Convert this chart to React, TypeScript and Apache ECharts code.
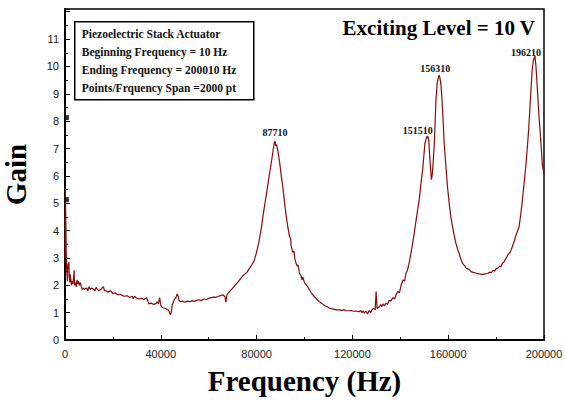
import React, { useEffect, useRef } from "react";
import * as echarts from "echarts";

// Frequency (Hz) / Gain samples
const freq: number[] = [
  10, 150, 300, 450, 600, 800, 1000, 1200, 1400, 1600, 1800, 2000, 2200, 2400, 2700, 3000, 3300, 3600, 3800, 4000,
  4300, 4700, 5000, 5300, 5600, 6000, 6400, 6800, 7200, 7600, 8000, 9000, 9500, 10000, 10500, 11000, 12000, 12500,
  13000, 14000, 15000, 16000, 16500, 17000, 18000, 19000, 20000, 21000, 22000, 23000, 24000, 25000, 26000, 27000,
  28000, 28500, 29000, 30000, 31000, 32000, 33000, 34000, 34500, 35000, 36000, 37000, 38000, 38500, 39000, 39500,
  40000, 40500, 41000, 42000, 43000, 43500, 44000, 44400, 44800, 45300, 45800, 46300, 46800, 47200, 47600, 48200,
  49000, 50000, 51000, 52000, 53000, 54000, 55000, 56000, 57000, 58000, 59000, 60000, 61000, 62000, 63000, 64000,
  65000, 66000, 66800, 67200, 67600, 68500, 70000, 72000, 74000, 76000, 77000, 78000, 79000, 79800, 80500, 81000,
  82000, 82600, 83500, 84300, 85000, 85700, 86500, 87000, 87400, 87710, 88000, 88300, 88900, 89600, 90300, 91000,
  91700, 92400, 93000, 93700, 94200, 94400, 95100, 95600, 96000, 96500, 97000, 97300, 97900, 98500, 99000, 99300,
  100000, 101300, 102100, 103000, 104000, 105000, 106250, 107500, 108500, 109500, 110400, 111500, 112500, 113500,
  114600, 115500, 116500, 117500, 118750, 119500, 120500, 121500, 122900, 123500, 124000, 124500, 125000, 125700,
  126300, 127000, 127600, 128300, 129000, 129500, 129900, 130300, 130800, 131250, 131800, 132300, 132800, 133400,
  134000, 134600, 135400, 136000, 137000, 137600, 138200, 139000, 139600, 140500, 141200, 141800, 142400, 143000,
  143750, 144700, 145800, 146800, 147900, 148600, 149300, 150300, 150800, 151200, 151510, 151900, 152100, 152600,
  153000, 153400, 153800, 154200, 154600, 154900, 155400, 156000, 156310, 156700, 157000, 157400, 157900, 158300,
  159000, 159700, 160400, 161100, 162100, 163200, 164000, 164600, 165300, 166000, 167000, 167600, 168750, 169500,
  170500, 171500, 172900, 174300, 175500, 176500, 177200, 178000, 178700, 179400, 180000, 180800, 181500, 182000,
  182600, 183300, 184000, 184600, 185200, 185800, 186300, 186800, 187500, 188200, 189000, 189600, 190300, 191000,
  191700, 192400, 193000, 193500, 194000, 194400, 194800, 195100, 195500, 196210, 196600, 196900, 197400, 197900,
  198400, 198900, 199300, 200010,
];

const gain: number[] = [
  3.0, 5.55, 4.6, 3.6, 2.7, 2.5, 2.15, 2.8, 2.6, 2.85, 2.3, 2.1, 2.4, 2.25, 2.0, 2.15, 2.05, 2.3, 2.55, 2.0,
  2.1, 1.95, 2.2, 2.05, 2.15, 2.0, 2.1, 1.95, 1.85, 1.9, 1.85, 1.9, 1.8, 1.95, 1.85, 1.9, 1.85, 1.8,
  1.92, 1.8, 1.85, 1.95, 1.8, 1.8, 1.75, 1.8, 1.7, 1.72, 1.65, 1.68, 1.62, 1.6, 1.62, 1.55,
  1.6, 1.52, 1.6, 1.52, 1.5, 1.52, 1.48, 1.55, 1.45, 1.32, 1.35, 1.3, 1.33, 1.4, 1.32, 1.55,
  1.28, 1.2, 1.18, 1.15, 1.1, 1.05, 0.92, 1.02, 1.3, 1.4, 1.5, 1.55, 1.68, 1.62, 1.45, 1.4,
  1.42, 1.38, 1.42, 1.4, 1.43, 1.42, 1.45, 1.47, 1.44, 1.5, 1.48, 1.52, 1.55, 1.57, 1.56, 1.6,
  1.62, 1.65, 1.58, 1.38, 1.65, 1.75, 1.9, 2.1, 2.32, 2.48, 2.62, 2.75, 2.9, 3.15, 3.4, 3.6,
  4.1, 4.5, 5.0, 5.45, 5.85, 6.25, 6.7, 7.0, 7.2, 7.27, 7.1, 7.15, 6.9, 6.5, 6.0, 5.55,
  5.0, 4.5, 4.15, 3.8, 3.7, 3.45, 3.2, 3.25, 2.95, 2.8, 2.7, 2.75, 2.45, 2.35, 2.2, 2.3,
  2.1, 1.95, 1.83, 1.7, 1.6, 1.5, 1.4, 1.32, 1.25, 1.22, 1.16, 1.14, 1.12, 1.1,
  1.1, 1.08, 1.1, 1.07, 1.07, 1.08, 1.05, 1.06, 1.04, 1.08, 1.0, 1.07, 0.98, 1.06,
  0.95, 1.08, 1.0, 1.12, 1.15, 1.1, 1.77, 1.15, 1.2, 1.2, 1.3, 1.22, 1.32, 1.25,
  1.35, 1.3, 1.45, 1.42, 1.55, 1.5, 1.65, 1.78, 1.72, 2.05, 2.2, 2.15, 2.45, 2.55,
  2.85, 3.3, 3.9, 4.5, 5.13, 5.7, 6.2, 7.2, 7.35, 7.45, 7.44, 7.3, 6.96, 6.3,
  5.86, 6.1, 6.6, 7.2, 8.1, 8.8, 9.4, 9.65, 9.67, 9.5, 9.3, 8.8, 8.0, 7.2,
  6.4, 5.6, 5.0, 4.5, 4.0, 3.54, 3.3, 3.15, 2.95, 2.8, 2.7, 2.62, 2.58, 2.5,
  2.47, 2.45, 2.42, 2.4, 2.42, 2.43, 2.48, 2.46, 2.55, 2.52, 2.6, 2.63, 2.7, 2.68,
  2.8, 2.85, 2.98, 3.05, 3.15, 3.2, 3.3, 3.42, 3.6, 3.8, 4.0, 4.15, 4.6, 5.13,
  5.75, 6.35, 7.0, 7.57, 8.3, 8.9, 9.5, 9.9, 10.2, 10.38, 10.05, 9.65, 8.9, 8.18,
  7.6, 6.96, 6.4, 6.05,
];

// Annotated resonance peaks
const peakFreq: number[] = [87710, 151510, 156310, 196210];
const peakGain: number[] = [7.27, 7.44, 9.67, 10.38];

// Small black marks on the gain axis
const axisMarkFreq: number[] = [800, 800];
const axisMarkGain: number[] = [8.13, 5.13];

const infoLines: string[] = [
  "Piezoelectric Stack Actuator",
  "Beginning Frequency = 10 Hz",
  "Ending Frequency = 200010 Hz",
  "Points/Frquency Span =2000 pt",
];
const levelText = "Exciting Level = 10 V";

const xTicks = { min: 0, max: 200000, interval: 40000 };
const yTicks = { min: 0, max: 12.1, interval: 1 };

export default function App() {
  const ref = useRef<HTMLDivElement>(null);

  useEffect(() => {
    if (!ref.current) return;
    const chart = echarts.init(ref.current, undefined, { renderer: "svg" });
    const serif = "'Liberation Serif', 'Times New Roman', serif";
    const sans = "'Liberation Sans', Arial, sans-serif";
    const lineColor = "#8b0a0a";
    const peakOffsets: number[][] = [
      [0, -9],
      [-10, -6],
      [-4, -7],
      [-9, -4],
    ];

    const data = freq.map((f, i) => [f, gain[i]]);

    chart.setOption({
      animation: false,
      backgroundColor: "#fff",
      grid: {
        left: 65,
        right: 21,
        top: 9,
        bottom: 63,
        containLabel: false,
        outerBoundsMode: "none",
        show: true,
        borderColor: "#000",
        borderWidth: 1.5,
        backgroundColor: "transparent",
      },
      xAxis: {
        type: "value",
        min: xTicks.min,
        max: xTicks.max,
        interval: xTicks.interval,
        name: "Frequency (Hz)",
        nameLocation: "middle",
        nameGap: 26,
        nameTextStyle: { fontFamily: serif, fontWeight: "bold", fontSize: 29, color: "#000" },
        axisLine: { lineStyle: { color: "#000", width: 2 } },
        axisTick: { inside: true, length: 5, lineStyle: { color: "#000", width: 1 } },
        minorTick: { show: true, splitNumber: 2, length: 3, lineStyle: { color: "#000", width: 1 } },
        splitLine: { show: false },
        axisLabel: {
          fontFamily: sans,
          fontSize: 11,
          color: "#222",
          margin: 8,
          formatter: (v: number) => String(v),
        },
      },
      yAxis: {
        type: "value",
        min: yTicks.min,
        max: yTicks.max,
        interval: yTicks.interval,
        name: "Gain",
        nameLocation: "middle",
        nameGap: 35,
        nameTextStyle: { fontFamily: serif, fontWeight: "bold", fontSize: 29, color: "#000" },
        axisLine: { lineStyle: { color: "#000", width: 2 } },
        axisTick: { inside: true, length: 5, lineStyle: { color: "#000", width: 1 } },
        minorTick: { show: true, splitNumber: 2, length: 3, lineStyle: { color: "#000", width: 1 } },
        splitLine: { show: false },
        axisLabel: {
          fontFamily: sans,
          fontSize: 11,
          color: "#222",
          margin: 6,
          formatter: (v: number) => (v % 1 !== 0 || v >= 12 ? "" : String(v)),
        },
      },
      series: [
        {
          type: "line",
          data,
          showSymbol: false,
          symbol: "none",
          lineStyle: { color: lineColor, width: 1.2 },
          itemStyle: { color: lineColor },
          z: 3,
          markPoint: {
            symbol: "circle",
            symbolSize: 0,
            silent: true,
            data: peakFreq.map((f, i) => ({
              coord: [f, peakGain[i]],
              label: {
                show: true,
                position: "inside",
                offset: peakOffsets[i],
                formatter: String(f),
                fontFamily: serif,
                fontWeight: "bold",
                fontSize: 10,
                color: "#111",
              },
            })),
          },
        },
        {
          type: "scatter",
          data: axisMarkFreq.map((f, i) => [f, axisMarkGain[i]]),
          symbol: "rect",
          symbolSize: [4, 5],
          itemStyle: { color: "#000" },
          silent: true,
          z: 4,
        },
      ],
      graphic: [
        {
          type: "group",
          left: 74,
          top: 21,
          children: [
            {
              type: "rect",
              shape: { x: 0, y: 0, width: 179, height: 78 },
              style: { fill: "#fff", stroke: "#000", lineWidth: 1.5 },
            },
            ...infoLines.map((t, i) => ({
              type: "text",
              x: 7,
              y: 12 + i * 18,
              style: {
                text: t,
                font: `bold 11.5px ${serif}`,
                fill: "#111",
                textVerticalAlign: "middle",
                verticalAlign: "middle",
              },
            })),
          ],
        },
        {
          type: "text",
          x: 535,
          y: 28,
          style: {
            text: levelText,
            font: `bold 21px ${serif}`,
            fill: "#000",
            align: "right",
            textAlign: "right",
            verticalAlign: "middle",
            textVerticalAlign: "middle",
          },
        },
      ],
    });

    return () => chart.dispose();
  }, []);

  return (
    <div
      ref={ref}
      style={{ position: "fixed", left: 0, top: 0, width: 565, height: 403, background: "#fff" }}
    />
  );
}
